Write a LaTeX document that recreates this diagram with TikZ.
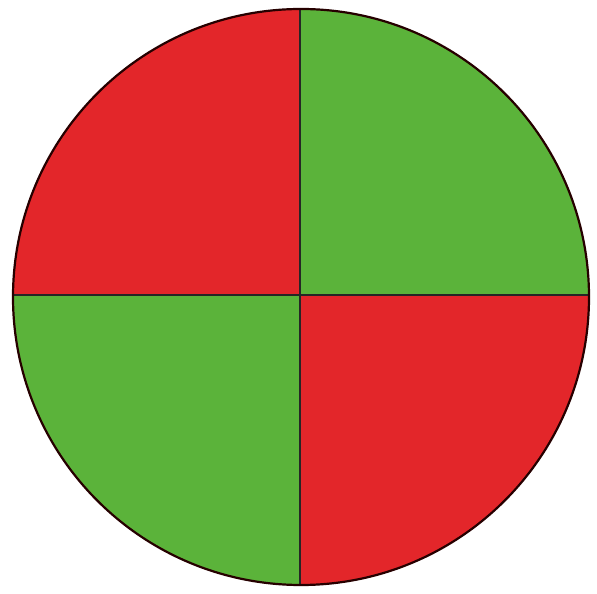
\documentclass[tikz,border=0pt]{standalone}
\definecolor{qred}{HTML}{E3262A}
\definecolor{qgreen}{HTML}{5BB33A}
\begin{document}
\begin{tikzpicture}[x=1pt,y=1pt,
  outline/.style={draw=black!85!red,line width=2.2pt},
  divider/.style={draw=black!85,line width=2pt}]
\useasboundingbox (0,0) rectangle (597,594);
\coordinate (c) at (301,297);
\coordinate (m) at (300,299);
\begin{scope}
  \clip (c) circle (288);
  \fill[qred] (0,594) rectangle (m);
  \fill[qgreen] (597,594) rectangle (m);
  \fill[qgreen] (0,0) rectangle (m);
  \fill[qred] (597,0) rectangle (m);
  \draw[divider] (m |- 0,0) -- (m |- 0,594);
  \draw[divider] (m -| 0,0) -- (m -| 597,0);
\end{scope}
\draw[outline] (c) circle (288);
\end{tikzpicture}
\end{document}
